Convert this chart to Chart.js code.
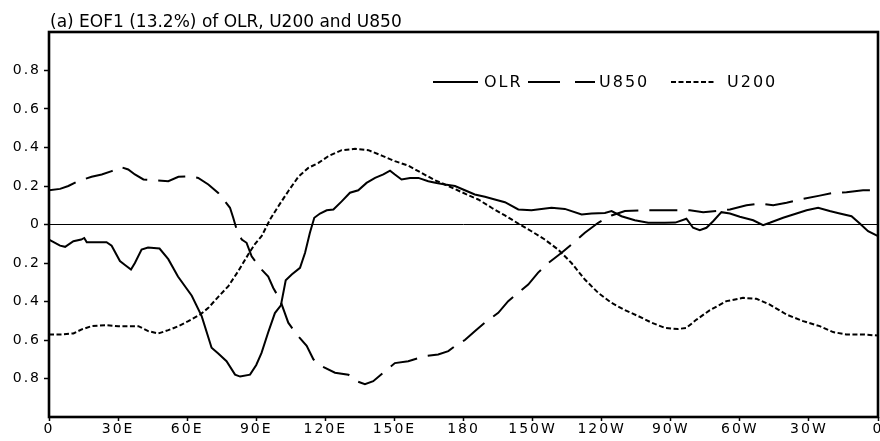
<!DOCTYPE html>
<html><head><meta charset="utf-8">
<script src="https://cdn.jsdelivr.net/npm/chart.js@4.4.1/dist/chart.umd.min.js"></script>
<style>html,body{margin:0;padding:0;background:#fff}#wrap{width:880px;height:441px;position:relative}</style>
</head><body><div id="wrap"><canvas id="c" width="880" height="441"></canvas></div>
<script>
const titleText = '(a) EOF1 (13.2%) of OLR, U200 and U850';
const seriesNames = ['OLR', 'U850', 'U200'];
const xTickValues = [0, 30, 60, 90, 120, 150, 180, 210, 240, 270, 300, 330, 360];
const xTickLabels = ['0', '30E', '60E', '90E', '120E', '150E', '180', '150W', '120W', '90W', '60W', '30W', '0'];
const yTickValues = [-0.8, -0.6, -0.4, -0.2, 0, 0.2, 0.4, 0.6, 0.8];
const yTickLabels = ['0.8', '0.6', '0.4', '0.2', '0', '0.2', '0.4', '0.6', '0.8'];

const olrLon = [0, 4.8, 7, 10.6, 14, 15.3, 16.4, 25, 27.2, 30.8, 33, 35.6, 37.3, 40.2, 43, 48, 51.8, 56, 62, 66.3, 70.6, 73.5, 77.1, 80.8, 83, 87.3, 90, 92.3, 95.2, 98.1, 100.7, 102.8, 105.4, 109, 111.2, 113.3, 115.2, 117.7, 120.6, 123.5, 127.1, 130.7, 134.3, 137.9, 141.6, 145.2, 148.1, 150.2, 153.1, 156.8, 160.4, 164.7, 168.3, 172, 176.3, 180.6, 184.9, 189.3, 193.6, 198, 203.8, 209.5, 218.2, 224, 231.3, 235.6, 241.4, 244.3, 248.6, 254.4, 260.2, 267.4, 272, 276.8, 279.7, 282.6, 285.5, 288.4, 292, 295.7, 300, 305.8, 310.1, 313, 318.8, 324.6, 329, 334, 339, 343.4, 348.5, 352.1, 355.7, 360];
const olrVal = [-0.078, -0.11, -0.116, -0.087, -0.078, -0.07, -0.092, -0.092, -0.11, -0.19, -0.21, -0.234, -0.2, -0.13, -0.12, -0.125, -0.18, -0.27, -0.37, -0.476, -0.64, -0.67, -0.71, -0.78, -0.79, -0.78, -0.73, -0.667, -0.56, -0.46, -0.42, -0.29, -0.26, -0.225, -0.147, -0.043, 0.035, 0.057, 0.074, 0.078, 0.12, 0.165, 0.178, 0.216, 0.242, 0.26, 0.28, 0.26, 0.234, 0.242, 0.242, 0.225, 0.216, 0.208, 0.2, 0.178, 0.156, 0.144, 0.13, 0.116, 0.078, 0.074, 0.087, 0.081, 0.052, 0.057, 0.06, 0.07, 0.043, 0.022, 0.009, 0.009, 0.01, 0.03, -0.017, -0.03, -0.017, 0.017, 0.064, 0.057, 0.04, 0.022, -0.003, 0.009, 0.035, 0.057, 0.074, 0.087, 0.07, 0.057, 0.043, 0.005, -0.035, -0.06];

const u850Lon = [0, 4.8, 8.4, 12.7, 18.5, 22.9, 27.2, 30.8, 34.4, 37.3, 41, 46, 51.8, 56.2, 60.5, 64.8, 69.2, 73.5, 76.4, 78.6, 80, 81.5, 83.7, 85.8, 88, 91.6, 95.2, 97.4, 100.3, 103.9, 107.5, 111.9, 114.8, 118.4, 124.2, 130, 133.6, 137.2, 140.8, 145.9, 150.2, 156, 163.3, 169, 173.4, 176.3, 180.6, 184.9, 189.3, 195.1, 199.4, 203.8, 208.1, 212.4, 216.8, 222.6, 226.9, 232.7, 238.5, 244.3, 250.1, 257.3, 264.5, 273.2, 278.3, 284.1, 289.9, 295.7, 302.9, 308.7, 314.5, 320.3, 327.5, 334.7, 340.5, 346.3, 353.5, 360];
const u850Val = [0.178, 0.185, 0.2, 0.225, 0.248, 0.26, 0.277, 0.3, 0.286, 0.26, 0.234, 0.23, 0.225, 0.248, 0.25, 0.242, 0.208, 0.164, 0.12, 0.087, 0.035, -0.026, -0.078, -0.095, -0.165, -0.225, -0.27, -0.33, -0.39, -0.51, -0.57, -0.63, -0.7, -0.736, -0.77, -0.78, -0.814, -0.83, -0.814, -0.762, -0.72, -0.71, -0.684, -0.675, -0.658, -0.632, -0.6, -0.554, -0.51, -0.459, -0.398, -0.355, -0.312, -0.25, -0.2, -0.147, -0.104, -0.043, 0.009, 0.047, 0.07, 0.074, 0.074, 0.074, 0.074, 0.064, 0.07, 0.078, 0.1, 0.109, 0.1, 0.113, 0.133, 0.15, 0.164, 0.168, 0.178, 0.178];

const u200Lon = [0, 5.5, 10.6, 14.2, 18.5, 24.3, 30.1, 38.8, 43.1, 47.5, 51.8, 56.2, 60.5, 65.6, 69.2, 73.5, 77.9, 82.2, 86.5, 89.5, 92.3, 96, 99.6, 103.9, 108.3, 112.6, 117, 121.3, 127.1, 132.9, 138.7, 144.5, 150.2, 156, 161.8, 167.6, 173.4, 179.2, 186.4, 192.2, 198, 203.8, 209.5, 215.3, 221.1, 226.9, 232.7, 238.5, 244.3, 250.1, 255.9, 261.7, 267.4, 273.2, 276.8, 281.2, 287, 294.2, 301.4, 307.2, 313, 320.3, 327.5, 334.7, 340.5, 346.3, 353.5, 360];
const u200Val = [-0.571, -0.571, -0.566, -0.545, -0.528, -0.523, -0.528, -0.528, -0.554, -0.566, -0.549, -0.528, -0.502, -0.468, -0.433, -0.376, -0.32, -0.242, -0.156, -0.1, -0.061, 0.026, 0.095, 0.173, 0.248, 0.294, 0.32, 0.355, 0.386, 0.393, 0.386, 0.358, 0.329, 0.306, 0.268, 0.23, 0.2, 0.168, 0.13, 0.087, 0.047, 0.005, -0.035, -0.078, -0.13, -0.2, -0.286, -0.355, -0.407, -0.445, -0.476, -0.51, -0.537, -0.543, -0.537, -0.494, -0.445, -0.398, -0.381, -0.386, -0.416, -0.468, -0.502, -0.528, -0.559, -0.571, -0.571, -0.577];

function pts(lons, vals) { return lons.map((x, i) => ({ x: x, y: vals[i] })); }

const dashes = { OLR: [], U850: [28, 11], U200: [5, 2.5] };
const legendDashes = { OLR: [], U850: [32, 15], U200: [5, 2.5] };

const framePlugin = {
  id: 'frameAndText',
  beforeDraw(chart) {
    chart.ctx.letterSpacing = '2px';
  },
  afterDatasetsDraw(chart) {
    const ctx = chart.ctx, a = chart.chartArea;
    ctx.save();
    ctx.strokeStyle = '#000';
    ctx.lineWidth = 2.6;
    ctx.setLineDash([]);
    ctx.strokeRect(a.left, a.top, a.right - a.left, a.bottom - a.top);
    ctx.restore();
  },
  afterDraw(chart) {
    const ctx = chart.ctx, a = chart.chartArea;
    ctx.save();
    ctx.fillStyle = '#000';
    ctx.letterSpacing = '0px';
    ctx.font = '17px "DejaVu Sans"';
    ctx.textBaseline = 'alphabetic';
    ctx.textAlign = 'left';
    ctx.fillText(titleText, a.left + 1, 27);
    ctx.font = '16px "DejaVu Sans"';
    ctx.letterSpacing = '2px';
    ctx.textBaseline = 'middle';
    const ly = 82;
    const items = [
      { name: seriesNames[0], x0: 433, x1: 478, tx: 484 },
      { name: seriesNames[1], x0: 528, x1: 595, tx: 599 },
      { name: seriesNames[2], x0: 671, x1: 715, tx: 727 }
    ];
    items.forEach(it => {
      ctx.beginPath();
      ctx.lineWidth = 2;
      ctx.strokeStyle = '#000';
      ctx.setLineDash(legendDashes[it.name]);
      ctx.moveTo(it.x0, ly);
      ctx.lineTo(it.x1, ly);
      ctx.stroke();
      ctx.fillText(it.name, it.tx, ly + 1);
    });
    ctx.restore();
  }
};

const tickFont = { family: 'DejaVu Sans', size: 14 };

new Chart(document.getElementById('c'), {
  type: 'line',
  data: {
    datasets: [
      { label: seriesNames[0], data: pts(olrLon, olrVal), borderColor: '#000', borderWidth: 2, borderDash: dashes.OLR, pointRadius: 0, tension: 0, fill: false },
      { label: seriesNames[1], data: pts(u850Lon, u850Val), borderColor: '#000', borderWidth: 2, borderDash: dashes.U850, pointRadius: 0, tension: 0, fill: false },
      { label: seriesNames[2], data: pts(u200Lon, u200Val), borderColor: '#000', borderWidth: 2, borderDash: dashes.U200, pointRadius: 0, tension: 0, fill: false }
    ]
  },
  options: {
    responsive: false,
    devicePixelRatio: 1,
    animation: false,
    layout: { padding: { top: 32, right: 2, left: 0, bottom: 0 } },
    plugins: { legend: { display: false }, title: { display: false }, tooltip: { enabled: false } },
    scales: {
      x: {
        type: 'linear', min: 0, max: 360,
        afterBuildTicks: s => { s.ticks = xTickValues.map(v => ({ value: v })); },
        afterFit: s => { s.height = 24; s.paddingLeft = 0; s.paddingRight = 0; },
        ticks: { font: tickFont, color: '#000', padding: 0, maxRotation: 0, autoSkip: false,
          callback: (v) => xTickLabels[xTickValues.indexOf(v)] },
        grid: { drawOnChartArea: false, tickColor: '#000', tickLength: 4, tickWidth: 1.5 },
        border: { display: false }
      },
      y: {
        type: 'linear', min: -1, max: 1,
        afterBuildTicks: s => { s.ticks = yTickValues.map(v => ({ value: v })); },
        afterFit: s => { s.width = 49; s.paddingTop = 0; s.paddingBottom = 0; },
        ticks: { font: tickFont, color: '#000', padding: 3, autoSkip: false,
          callback: (v) => { const i = yTickValues.findIndex(t => Math.abs(t - v) < 1e-9); return i >= 0 ? yTickLabels[i] : ''; } },
        grid: { drawOnChartArea: true, color: c => (c.tick && Math.abs(c.tick.value) < 1e-9) ? '#000' : 'rgba(0,0,0,0)', lineWidth: 1, tickColor: '#000', tickLength: 5, tickWidth: 1.5 },
        border: { display: false }
      }
    }
  },
  plugins: [framePlugin]
});
</script>
</body></html>
